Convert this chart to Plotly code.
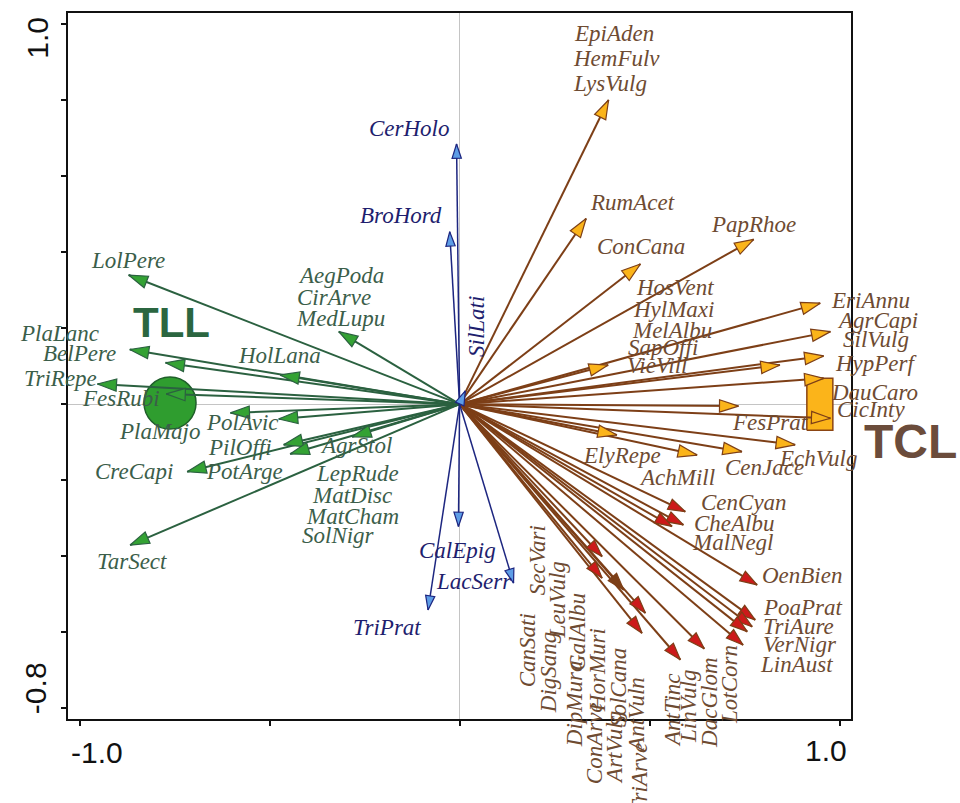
import numpy as np
import plotly.graph_objects as go

# ---- species scores on ordination axes 1 and 2 -------------------------------
# Species sharing identical scores are joined with "/" and share one arrow.
TLL_SPECIES = ["LolPere", "PlaLanc", "BelPere", "HolLana", "TriRepe", "FesRubi",
               "PlaMajo", "PolAvic", "AegPoda/CirArve/MedLupu", "PilOffi", "PotArge",
               "AgrStol/LepRude/MatDisc/MatCham/SolNigr", "CreCapi", "TarSect"]
TLL_AX1 = [-0.871, -0.868, -0.774, -0.472, -0.953, -0.772, -0.603, -0.476,
           -0.318, -0.463, -0.446, -0.283, -0.717, -0.867]
TLL_AX2 = [0.340, 0.144, 0.109, 0.077, 0.053, 0.027, -0.023, -0.039,
           0.191, -0.107, -0.131, -0.086, -0.178, -0.371]

NEUTRAL_SPECIES = ["CerHolo", "BroHord", "SilLati", "CalEpig", "LacSerr", "TriPrat"]
NEUTRAL_AX1 = [-0.008, -0.026, 0.015, -0.003, 0.142, -0.083]
NEUTRAL_AX2 = [0.685, 0.454, 0.035, -0.322, -0.471, -0.542]

TCL_SPECIES = ["EpiAden/HemFulv/LysVulg", "RumAcet", "ConCana", "PapRhoe",
               "HosVent/HylMaxi/SapOffi/VieVill", "EriAnnu", "AgrCapi/SilVulg",
               "HypPerf", "MelAlbu", "DauCaro", "FesPrat", "CicInty", "ElyRepe",
               "AchMill", "CenJace", "EchVulg"]
TCL_AX1 = [0.392, 0.333, 0.476, 0.774, 0.391, 0.949, 0.976, 0.958, 0.843,
           0.958, 0.734, 0.976, 0.414, 0.625, 0.743, 0.883]
TCL_AX2 = [0.801, 0.489, 0.369, 0.434, 0.103, 0.266, 0.191, 0.127, 0.103,
           0.068, -0.005, -0.037, -0.081, -0.134, -0.125, -0.107]

TCL2_SPECIES = ["CenCyan", "CheAlbu", "MalNegl", "OenBien", "PoaPrat", "TriAure",
                "VerNigr/LinAust", "LotCorn", "DacGlom", "AntTinc/LinVulg",
                "CanSati/SecVari", "DigSang/LeuVulg", "DipMura/GalAlbu",
                "ConArve/HorMuri/ArtVulg/SolCana", "TriArve/AntVuln"]
TCL2_AX1 = [0.594, 0.589, 0.559, 0.783, 0.778, 0.770, 0.757, 0.746, 0.644,
            0.581, 0.375, 0.375, 0.432, 0.489, 0.480]
TCL2_AX2 = [-0.283, -0.318, -0.322, -0.476, -0.568, -0.586, -0.599, -0.634,
            -0.644, -0.673, -0.401, -0.458, -0.489, -0.550, -0.603]

# centroids of the two nominal (land-use) classes
CLASS_NAMES = ["TLL", "TCL"]
CLASS_AX1 = [-0.762, 0.948]
CLASS_AX2 = [0.003, 0.0]

# axis ticks
X_TICKS = [-1.0, -0.5, 0.0, 0.5, 1.0]
Y_TICKS = [1.0, 0.8, 0.6, 0.4, 0.2, 0.0, -0.2, -0.4, -0.6, -0.8]

X_RANGE = [-1.0305, 1.030]
Y_RANGE = [-0.829, 1.030]

# ---- label placement in axis units (x, y, text angle) ------------------------
LABEL_POS = {
    "LolPere": (-0.872, 0.377, 0), "PlaLanc": (-1.052, 0.186, 0),
    "BelPere": (-1.001, 0.133, 0), "TriRepe": (-1.051, 0.067, 0),
    "FesRubi": (-0.890, 0.016, 0), "PlaMajo": (-0.788, -0.071, 0),
    "HolLana": (-0.474, 0.127, 0), "AegPoda": (-0.312, 0.340, 0),
    "CirArve": (-0.330, 0.282, 0), "MedLupu": (-0.314, 0.225, 0),
    "PolAvic": (-0.570, -0.048, 0), "PilOffi": (-0.578, -0.113, 0),
    "PotArge": (-0.566, -0.178, 0), "CreCapi": (-0.858, -0.177, 0),
    "AgrStol": (-0.272, -0.110, 0), "LepRude": (-0.268, -0.182, 0),
    "MatDisc": (-0.282, -0.240, 0), "MatCham": (-0.283, -0.297, 0),
    "SolNigr": (-0.318, -0.347, 0), "TarSect": (-0.862, -0.415, 0),
    "CerHolo": (-0.132, 0.727, 0), "BroHord": (-0.153, 0.498, 0),
    "SilLati": (0.045, 0.205, -90), "CalEpig": (-0.006, -0.384, 0),
    "LacSerr": (0.039, -0.468, 0), "TriPrat": (-0.190, -0.589, 0),
    "EpiAden": (0.407, 0.977, 0), "HemFulv": (0.412, 0.911, 0),
    "LysVulg": (0.396, 0.845, 0), "RumAcet": (0.455, 0.532, 0),
    "ConCana": (0.478, 0.414, 0), "PapRhoe": (0.773, 0.474, 0),
    "HosVent": (0.568, 0.308, 0), "HylMaxi": (0.562, 0.248, 0),
    "MelAlbu": (0.560, 0.195, 0), "SapOffi": (0.536, 0.150, 0),
    "VieVill": (0.520, 0.103, 0), "EriAnnu": (1.081, 0.274, 0),
    "AgrCapi": (1.099, 0.221, 0), "SilVulg": (1.097, 0.169, 0),
    "HypPerf": (1.097, 0.108, 0), "DauCaro": (1.091, 0.032, 0),
    "CicInty": (1.083, -0.015, 0), "FesPrat": (0.817, -0.047, 0),
    "EchVulg": (0.944, -0.142, 0), "ElyRepe": (0.428, -0.134, 0),
    "AchMill": (0.573, -0.192, 0), "CenJace": (0.802, -0.168, 0),
    "CenCyan": (0.749, -0.260, 0), "CheAlbu": (0.723, -0.313, 0),
    "MalNegl": (0.720, -0.365, 0), "OenBien": (0.901, -0.450, 0),
    "PoaPrat": (0.904, -0.536, 0), "TriAure": (0.893, -0.586, 0),
    "VerNigr": (0.896, -0.634, 0), "LinAust": (0.886, -0.686, 0),
    "CanSati": (0.181, -0.647, -90), "SecVari": (0.205, -0.410, -90),
    "DigSang": (0.236, -0.705, -90), "LeuVulg": (0.258, -0.515, -90),
    "DipMura": (0.302, -0.789, -90), "GalAlbu": (0.310, -0.599, -90),
    "ConArve": (0.357, -0.892, -90), "HorMuri": (0.362, -0.700, -90),
    "ArtVulg": (0.409, -0.905, -90), "SolCana": (0.420, -0.747, -90),
    "TriArve": (0.475, -0.984, -90), "AntVuln": (0.467, -0.818, -90),
    "AntTinc": (0.562, -0.805, -90), "LinVulg": (0.604, -0.797, -90),
    "DacGlom": (0.657, -0.786, -90), "LotCorn": (0.712, -0.739, -90),
}

GREEN_LINE, GREEN_HEAD, GREEN_TEXT = "#2b6140", "#34a234", "#3b5e4a"
BLUE_LINE, BLUE_HEAD, BLUE_TEXT = "#1d2680", "#5d9de6", "#1e1e6e"
BROWN_LINE, ORANGE_HEAD, RED_HEAD, BROWN_TEXT = "#7d3f17", "#fbb41a", "#cc1a1a", "#6e4b32"
DARK_HEADS = {"DipMura/GalAlbu"}

SERIF = "Liberation Serif"
SANS = "Liberation Sans"

fig = go.Figure()


def spokes(ax1, ax2):
    xs, ys = [], []
    for a, b in zip(ax1, ax2):
        xs += [0, a, None]
        ys += [0, b, None]
    return xs, ys


def heading(ax1, ax2):
    # clockwise from north; both axes share one scale
    return list(np.degrees(np.arctan2(np.array(ax1), np.array(ax2))))


def to_paper(x, y):
    # labels may sit outside the axis range, so place them in paper units
    px = (x - X_RANGE[0]) / (X_RANGE[1] - X_RANGE[0])
    py = (y - Y_RANGE[0]) / (Y_RANGE[1] - Y_RANGE[0])
    return px, py


def label(x, y, text, font, angle=0):
    px, py = to_paper(x, y)
    fig.add_annotation(x=px, y=py, xref="paper", yref="paper", text=text,
                       showarrow=False, textangle=angle, xanchor="center",
                       yanchor="middle", font=font)


# class centroids (drawn underneath the arrows)
fig.add_trace(go.Scatter(
    x=[CLASS_AX1[0]], y=[CLASS_AX2[0]], mode="markers", hoverinfo="skip",
    marker=dict(symbol="circle", size=52, color="#2f9d2f",
                line=dict(color="#1f5f2a", width=1.5))))
hw, hh = 13 / 380, 26 / 380
cx, cy = CLASS_AX1[1], CLASS_AX2[1]
fig.add_trace(go.Scatter(
    x=[cx - hw, cx + hw, cx + hw, cx - hw, cx - hw],
    y=[cy - hh, cy - hh, cy + hh, cy + hh, cy - hh],
    mode="lines", fill="toself", fillcolor="#fbb41a", hoverinfo="skip",
    line=dict(color="#8b4513", width=1.5)))

groups = [
    (TLL_SPECIES, TLL_AX1, TLL_AX2, GREEN_LINE, 2.0, [GREEN_HEAD] * len(TLL_SPECIES), 20),
    (TCL_SPECIES, TCL_AX1, TCL_AX2, BROWN_LINE, 2.0, [ORANGE_HEAD] * len(TCL_SPECIES), 20),
    (TCL2_SPECIES, TCL2_AX1, TCL2_AX2, BROWN_LINE, 2.0,
     [BROWN_LINE if s in DARK_HEADS else RED_HEAD for s in TCL2_SPECIES], 18),
    (NEUTRAL_SPECIES, NEUTRAL_AX1, NEUTRAL_AX2, BLUE_LINE, 1.5, [BLUE_HEAD] * len(NEUTRAL_SPECIES), 15),
]

for names, a1, a2, lc, lw, heads, hs in groups:
    xs, ys = spokes(a1, a2)
    fig.add_trace(go.Scatter(x=xs, y=ys, mode="lines", hoverinfo="skip",
                             line=dict(color=lc, width=lw)))

for names, a1, a2, lc, lw, heads, hs in groups:
    fig.add_trace(go.Scatter(
        x=a1, y=a2, mode="markers", text=names, hoverinfo="text",
        marker=dict(symbol="arrow", size=hs, angle=heading(a1, a2),
                    color=heads, line=dict(color=lc, width=1.2))))

# species labels
colour_of = {}
for names, col in [(TLL_SPECIES, GREEN_TEXT), (NEUTRAL_SPECIES, BLUE_TEXT),
                   (TCL_SPECIES, BROWN_TEXT), (TCL2_SPECIES, BROWN_TEXT)]:
    for n in names:
        for s in n.split("/"):
            colour_of[s] = col

for name, (lx, ly, ang) in LABEL_POS.items():
    label(lx, ly, f"<i>{name}</i>",
          dict(family=SERIF, size=23, color=colour_of[name]), ang)

# class names
label(-0.759, 0.216, "<b>TLL</b>", dict(family=SANS, size=42, color="#2b6640"))
label(1.186, -0.097, "<b>TCL</b>", dict(family=SANS, size=48, color="#6b4c3b"))

# end tick labels, pulled inward as in the ordination software
tick_font = dict(family=SANS, size=30, color="#111111")
label(-0.953, -0.916, "-1.0", tick_font)
label(0.965, -0.911, "1.0", tick_font)
label(-1.111, 0.966, "1.0", tick_font, -90)
label(-1.114, -0.747, "-0.8", tick_font, -90)

axis_common = dict(showgrid=False, zeroline=True, zerolinecolor="#c4c4c4", zerolinewidth=1,
                   showline=True, linecolor="#111111", linewidth=2, mirror=True,
                   ticks="outside", ticklen=5, tickwidth=1.5, tickcolor="#111111",
                   showticklabels=False)

fig.update_layout(
    width=960, height=803,
    margin=dict(l=68, r=109, t=13, b=84),
    paper_bgcolor="white", plot_bgcolor="white",
    showlegend=False,
    xaxis=dict(range=X_RANGE, tickvals=X_TICKS, **axis_common),
    yaxis=dict(range=Y_RANGE, tickvals=Y_TICKS, **axis_common),
)

fig.write_html("out.html")
